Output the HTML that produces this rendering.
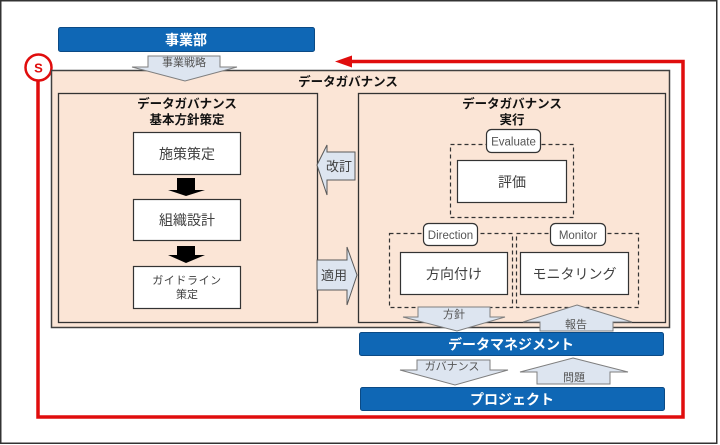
<!DOCTYPE html>
<html><head><meta charset="utf-8"><style>
html,body{margin:0;padding:0;background:#fff;}
svg{display:block;}
text{font-family:"Liberation Sans","Noto Sans CJK JP",sans-serif;}
</style></head><body>
<svg width="720" height="445" viewBox="0 0 720 445" xmlns="http://www.w3.org/2000/svg">
<rect x="0" y="0" width="720" height="445" fill="#fff"/>
<rect x="0.75" y="0.75" width="716" height="442.5" fill="none" stroke="#333" stroke-width="1.5"/>

<!-- red loop -->
<polyline points="38,81 38,417 683,417 683,61.5 348,61.5" fill="none" stroke="#e00d0d" stroke-width="3.5" stroke-linejoin="miter"/>
<polygon points="335,61.5 352,55.5 352,67.5" fill="#e00d0d"/>
<circle cx="38.5" cy="67.5" r="13" fill="#fff" stroke="#e00d0d" stroke-width="2.5"/>
<text x="38.5" y="72.5" font-size="13" font-weight="bold" fill="#e00d0d" text-anchor="middle">S</text>

<!-- 事業部 -->
<rect x="58.5" y="27.5" width="256" height="24" rx="2" fill="#0f67b5" stroke="#0b4a85" stroke-width="1"/>
<text x="186" y="45" font-size="14" font-weight="bold" fill="#fff" text-anchor="middle">事業部</text>

<!-- outer governance -->
<rect x="51.5" y="70.5" width="618" height="257" fill="#fbe5d6" stroke="#404040" stroke-width="1.5"/>
<text x="348" y="86" font-size="12.5" font-weight="bold" fill="#111" text-anchor="middle">データガバナンス</text>

<!-- 事業戦略 arrow -->
<polygon points="148,56 220,56 220,67 237,67 185,81 132,67 148,67" fill="#dde5f0" stroke="#7f7f7f" stroke-width="1"/>
<text x="184" y="66" font-size="11" fill="#555" text-anchor="middle">事業戦略</text>

<!-- left inner -->
<rect x="58.5" y="93.5" width="259" height="229" fill="#fbe5d6" stroke="#333" stroke-width="1.3"/>
<text x="187" y="108" font-size="12.5" font-weight="bold" fill="#111" text-anchor="middle">データガバナンス</text>
<text x="187" y="124" font-size="12.5" font-weight="bold" fill="#111" text-anchor="middle">基本方針策定</text>

<rect x="133.5" y="132.5" width="107" height="42" fill="#fff" stroke="#333" stroke-width="1.2"/>
<text x="187" y="159" font-size="14" fill="#404040" text-anchor="middle">施策策定</text>
<polygon points="177,178 195,178 195,190 205,190 186,196 168,190 177,190" fill="#000"/>
<rect x="133.5" y="199.5" width="107" height="41" fill="#fff" stroke="#333" stroke-width="1.2"/>
<text x="187" y="225" font-size="14" fill="#404040" text-anchor="middle">組織設計</text>
<polygon points="177,246 195,246 195,255 205,255 186,263 168,255 177,255" fill="#000"/>
<rect x="133.5" y="266.5" width="107" height="42" fill="#fff" stroke="#333" stroke-width="1.2"/>
<text x="187" y="284" font-size="11" fill="#404040" text-anchor="middle" letter-spacing="0.6">ガイドライン</text>
<text x="187" y="298" font-size="11" fill="#404040" text-anchor="middle">策定</text>

<!-- 改訂 / 適用 arrows -->
<polygon points="317,165 327,145 327,152 355,152 355,180 327,180 327,195" fill="#dde5f0" stroke="#595959" stroke-width="1"/>
<text x="339" y="171" font-size="13" fill="#404040" text-anchor="middle">改訂</text>
<polygon points="317,260 347,260 347,247 357,275 347,305 347,290 317,290" fill="#dde5f0" stroke="#595959" stroke-width="1"/>
<text x="334" y="280" font-size="13" fill="#404040" text-anchor="middle">適用</text>

<!-- right inner -->
<rect x="358.5" y="93.5" width="307" height="229" fill="#fbe5d6" stroke="#333" stroke-width="1.3"/>
<text x="512" y="108" font-size="12.5" font-weight="bold" fill="#111" text-anchor="middle">データガバナンス</text>
<text x="512" y="124" font-size="12.5" font-weight="bold" fill="#111" text-anchor="middle">実行</text>

<!-- Evaluate -->
<rect x="450.5" y="144.5" width="123" height="73" fill="none" stroke="#333" stroke-width="1.2" stroke-dasharray="4 3"/>
<rect x="457.5" y="160.5" width="109" height="42" fill="#fff" stroke="#333" stroke-width="1.2"/>
<text x="512" y="187" font-size="14" fill="#404040" text-anchor="middle">評価</text>
<rect x="486.5" y="129.5" width="54" height="23" rx="5" fill="#fff" stroke="#333" stroke-width="1.2"/>
<text x="513.5" y="145.5" font-size="11.5" fill="#555" text-anchor="middle">Evaluate</text>

<!-- Direction -->
<rect x="389.5" y="233.5" width="123" height="74" fill="none" stroke="#333" stroke-width="1.2" stroke-dasharray="4 3"/>
<rect x="400.5" y="252.5" width="107" height="42" fill="#fff" stroke="#333" stroke-width="1.2"/>
<text x="454" y="279" font-size="14" fill="#404040" text-anchor="middle">方向付け</text>
<rect x="423.5" y="223.5" width="54" height="22" rx="5" fill="#fff" stroke="#333" stroke-width="1.2"/>
<text x="450.5" y="239" font-size="11.5" fill="#555" text-anchor="middle">Direction</text>

<!-- Monitor -->
<rect x="516.5" y="233.5" width="122" height="74" fill="none" stroke="#333" stroke-width="1.2" stroke-dasharray="4 3"/>
<rect x="520.5" y="252.5" width="108" height="42" fill="#fff" stroke="#333" stroke-width="1.2"/>
<text x="574.5" y="279" font-size="14" fill="#404040" text-anchor="middle">モニタリング</text>
<rect x="550.5" y="223.5" width="55" height="22" rx="5" fill="#fff" stroke="#333" stroke-width="1.2"/>
<text x="578" y="239" font-size="11.5" fill="#555" text-anchor="middle">Monitor</text>

<!-- 方針 / 報告 -->
<polygon points="418,307 490,307 490,317 505,317 457,331 403,317 418,317" fill="#dde5f0" stroke="#7f7f7f" stroke-width="1"/>
<text x="454" y="318" font-size="11" fill="#555" text-anchor="middle">方針</text>
<polygon points="577,305 632,322 613,322 613,331 540,331 540,322 523,322" fill="#dde5f0" stroke="#7f7f7f" stroke-width="1"/>
<text x="576" y="328" font-size="11" fill="#555" text-anchor="middle">報告</text>

<!-- データマネジメント -->
<rect x="359.5" y="332.5" width="304" height="23" rx="2" fill="#0f67b5" stroke="#0b4a85" stroke-width="1"/>
<text x="511" y="349.5" font-size="14" font-weight="bold" fill="#fff" text-anchor="middle">データマネジメント</text>

<!-- ガバナンス / 問題 -->
<polygon points="417,360 490,360 490,370 508,370 455,385 400,370 417,370" fill="#dde5f0" stroke="#7f7f7f" stroke-width="1"/>
<text x="452" y="370" font-size="11" fill="#555" text-anchor="middle">ガバナンス</text>
<polygon points="573,358 628,372 610,372 610,384 537,384 537,372 520,372" fill="#dde5f0" stroke="#7f7f7f" stroke-width="1"/>
<text x="574" y="381" font-size="11" fill="#555" text-anchor="middle">問題</text>

<!-- プロジェクト -->
<rect x="360.5" y="387.5" width="304" height="23" rx="2" fill="#0f67b5" stroke="#0b4a85" stroke-width="1"/>
<text x="512" y="404.5" font-size="14" font-weight="bold" fill="#fff" text-anchor="middle">プロジェクト</text>
</svg>
</body></html>
